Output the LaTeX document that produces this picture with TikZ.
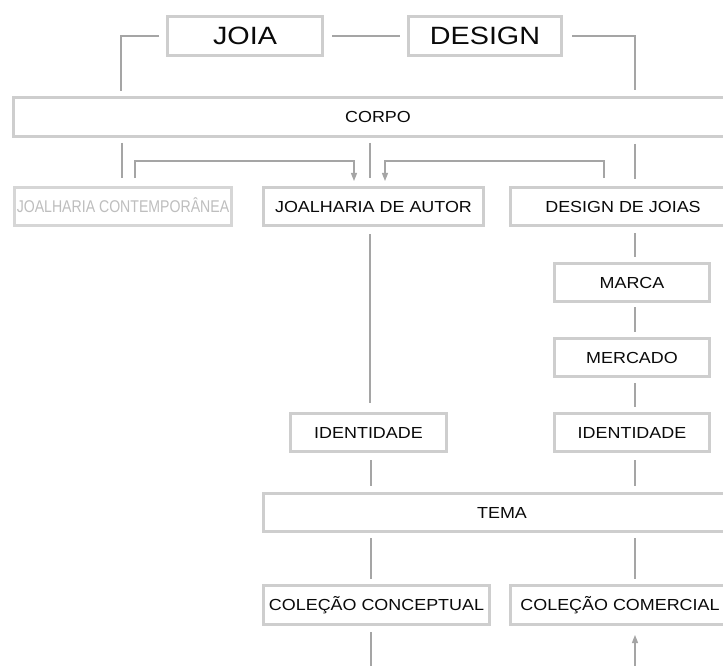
\documentclass[tikz,border=0pt]{standalone}
\usepackage{fontspec}
\setmainfont{Liberation Sans}
\newfontfamily\bigfont[FakeStretch=1.15]{Liberation Sans}
\newfontfamily\smallfont[FakeStretch=1.12]{Liberation Sans}
\newfontfamily\condfont[FakeStretch=0.83]{Liberation Sans}
\usetikzlibrary{arrows.meta}
\definecolor{boxgrey}{RGB}{206,206,206}
\definecolor{lightboxgrey}{RGB}{214,214,214}
\definecolor{linegrey}{RGB}{165,165,165}
\definecolor{textblack}{RGB}{10,10,10}
\definecolor{fadedtext}{RGB}{190,190,190}
\begin{document}
\begin{tikzpicture}[x=1pt,y=-1pt,
  box/.style={draw=boxgrey, line width=3pt, outer sep=1.5pt, inner sep=0pt,
    text=textblack, font=\smallfont\fontsize{16}{16}\selectfont,
    text height=11.5pt, text depth=0pt, minimum height=38pt},
  bigbox/.style={box, font=\bigfont\fontsize{25}{25}\selectfont, text height=17.9pt, minimum height=39pt},
  conn/.style={draw=linegrey, line width=1.2pt},
  arr/.style={conn, -{Triangle[length=8pt,width=6pt]}}
]
\useasboundingbox (0,0) rectangle (723,666);
\clip (0,0) rectangle (723,666);
\fill[white] (0,0) rectangle (723,666);

% boxes
\node[bigbox, minimum width=155pt] (joia) at (245,36) {JOIA};
\node[bigbox, minimum width=153pt] (design) at (485,36) {DESIGN};
\node[box, minimum width=729pt, minimum height=39pt] (corpo) at (378,117) {CORPO};
\node[box, draw=lightboxgrey, text=fadedtext, font=\condfont\fontsize{17}{17}\selectfont,
      text height=12.2pt, minimum width=217pt] (jc) at (123,206.5) {JOALHARIA CONTEMPORÂNEA};
\node[box, minimum width=220pt] (jda) at (373.5,206.5) {JOALHARIA DE AUTOR};
\node[box, minimum width=225pt] (ddj) at (623,206.5) {DESIGN DE JOIAS};
\node[box, minimum width=155pt] (marca) at (632,282.5) {MARCA};
\node[box, minimum width=155pt] (mercado) at (632,357.5) {MERCADO};
\node[box, minimum width=155pt] (idR) at (632,432.5) {IDENTIDADE};
\node[box, minimum width=156pt] (idL) at (368.5,432.5) {IDENTIDADE};
\node[box, minimum width=477pt] (tema) at (502,512.5) {TEMA};
\node[box, minimum width=226pt, minimum height=39pt] (ccon) at (376.5,605) {COLEÇÃO CONCEPTUAL};
\node[box, minimum width=219pt, minimum height=39pt] (ccom) at (620,605) {COLEÇÃO COMERCIAL};

% column coordinates
\coordinate (xA) at (121,0);
\coordinate (xB) at (122,0);
\coordinate (xC) at (135,0);
\coordinate (xLa) at (354,0);
\coordinate (xL) at (370,0);
\coordinate (xL2) at (371,0);
\coordinate (xLb) at (385,0);
\coordinate (xD) at (604,0);
\coordinate (xR) at (635,0);
\coordinate (yH) at (0,161);
\coordinate (botL) at (371,680);
\coordinate (botR) at (635,680);

% connectors
\draw[conn, shorten <=7pt, shorten >=5pt] (joia.west) -| (corpo.north -| xA);
\draw[conn, shorten <=8pt, shorten >=7pt] (joia.east) -- (design.west);
\draw[conn, shorten <=9pt, shorten >=6pt] (design.east) -| (corpo.north -| xR);

\draw[conn, shorten <=5pt, shorten >=8pt] (corpo.south -| xB) -- (jc.north -| xB);
\draw[arr, shorten <=8pt, shorten >=5pt] (jc.north -| xC) |- (yH -| xLa) -- (jda.north -| xLa);
\draw[conn, shorten <=5pt, shorten >=8pt] (corpo.south -| xL) -- (jda.north -| xL);
\draw[arr, shorten <=8pt, shorten >=5pt] (ddj.north -| xD) |- (yH -| xLb) -- (jda.north -| xLb);
\draw[conn, shorten <=6pt, shorten >=7pt] (corpo.south -| xR) -- (ddj.north -| xR);

\draw[conn, shorten <=7pt, shorten >=9pt] (jda.south -| xL) -- (idL.north -| xL);
\draw[conn, shorten <=6pt, shorten >=5pt] (ddj.south -| xR) -- (marca.north -| xR);
\draw[conn, shorten <=4pt, shorten >=5pt] (marca.south -| xR) -- (mercado.north -| xR);
\draw[conn, shorten <=5pt, shorten >=5pt] (mercado.south -| xR) -- (idR.north -| xR);

\draw[conn, shorten <=7pt, shorten >=6pt] (idL.south -| xL2) -- (tema.north -| xL2);
\draw[conn, shorten <=7pt, shorten >=6pt] (idR.south -| xR) -- (tema.north -| xR);
\draw[conn, shorten <=5pt, shorten >=5pt] (tema.south -| xL2) -- (ccon.north -| xL2);
\draw[conn, shorten <=5pt, shorten >=5pt] (tema.south -| xR) -- (ccom.north -| xR);

\draw[conn, shorten <=6pt] (ccon.south -| xL2) -- (botL);
\draw[arr, shorten >=9pt] (botR) -- (ccom.south -| xR);
\end{tikzpicture}
\end{document}
